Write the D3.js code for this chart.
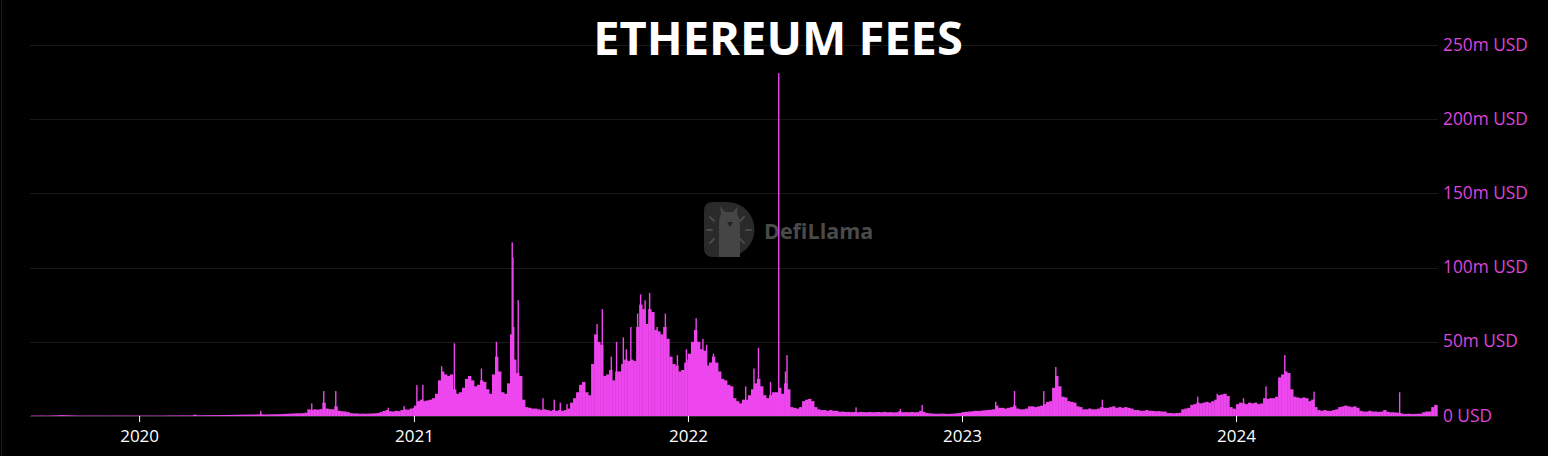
<!DOCTYPE html>
<html>
<head>
<meta charset="utf-8">
<script src="https://cdn.jsdelivr.net/npm/d3@7"></script>
<style>
  html, body { margin: 0; padding: 0; background: #000; }
  svg { display: block; }
</style>
</head>
<body>
<script>
// ---- DATA (million USD, each value = one 4-day period) ----
const start2019 = "2019-08-10";
const fees2019 = [0.3,0.3,0.3,0.35,0.3,0.3,0.35,0.4,0.45,0.55,0.6,0.5,0.45,0.4,0.35,0.3,0.3,0.3,
  0.3,0.3,0.3,0.3,0.3,0.3,0.3,0.3,0.3,0.3,0.3,0.3,0.3,0.3,0.3,0.3,0.3,0.3];
const fees2020 = [0.3,0.3,0.3,0.3,0.3,0.3,0.3,0.3,0.35,0.35,0.4,0.4,0.4,0.4,0.45,0.4,0.4,0.45,
  0.9,
  0.5,0.5,0.5,0.55,0.55,0.6,0.6,0.6,0.65,0.7,0.7,0.75,0.8,0.8,0.85,0.9,0.9,0.95,1.0,1.0,1.0,
  1.3,
  1.0,1.0,1.1,1.1,1.2,1.2,1.3,1.4,1.5,
  1.6,1.7,1.8,1.8,1.9,2.2,
  4.5, 4.0,4.5,4.3,4.6, 9.0, 5.0,4.6,4.5, 6.5, 3.6,3.2,3.0,2.6,
  1.9,1.7,1.7,1.5,1.6,1.5,1.6,1.7,1.8,2.0,
  2.6,3.4,4.0,3.2,
  3.0,3.5,3.3,4.0,4.5,4.2,5.0,5.5];
const fees2021 = [7,10,11, 10,10.5,11,12,15, 24,30,28,27,28,18, 15,16,19, 25,27,24, 20,21,24, 23,18,
  15,28,40,30, 16,15, 22,55,38,29,27,11, 6,5.5,5,5,4.5,
  4,4.5,4,3.5,4,3.5,4,3.5,4,5,
  9,12,16,21,23,16,14, 35,55,50,48, 27,28,31,24, 30,30,35,38,37,38,37,
  60,75,72,62, 72,70,58,57,55, 60,52,40,35, 34,30,31,36,38];
const fees2022 = [42,50,58,50,45,44, 34,36,40,36, 30,25,24,21,20, 12,10,8.5,11,11, 14,18,22,25,20,
  14,12,14,16,16, 19,15,22,18, 6,5.5,5,6, 10,11,11.5,10, 6, 4.5,4,4, 3.5,4,3.5,3.5,
  2.8,3,2.7,2.8,2.6,2.7,2.5,2.8,2.6,2.5,2.7,
  2.5,2.6,2.7,2.5,2.8,2.5,2.6,2.4,2.5,3.2,
  2.5,2.6,2.5,2.7,2.5,2.6,3.5,2.8,
  2.0,1.8,1.6,1.5,1.5,1.6,1.5,1.4,1.5,1.6,1.8,2.0,2.4];
const fees2023 = [2.5,2.8,3.0,3.2,3.5,3.4,3.6,3.8,4.0,4.2,4.5, 7, 5.5,5.5,5,5.5,6, 7, 5,4.5,4.5,5,
  6.5,6.5,6,6.5,7, 8, 9.5,10, 19,27,20, 13,12.5, 10,9.5,9, 6.5,6, 4.5,4.5,5,4.5,4.5,5, 6,
  5.5,5.5,6,6.5,5.5,6,5.5,6,5.5,5,
  4,4,3.5,3.5,4,3.5,3.5,3.2,3.3,3,3,
  2,2,1.8,2,2.2, 4.5,5,5.5, 7.5,8,9,8.5, 9,9.5,9,10,11, 14,14.5,15,13.5, 6,5,4.5];
const fees2024 = [8,9,8.5, 8,9,8.5,9,8,8.5, 12, 11.5,12,12,13, 26,28,30,29, 18, 13,12.5,12,12.5,12,
  10,11, 6, 4,3.5,4,3.5,3.5,4,4.5, 6,6.5,7,6.5,6,6.5,5.5,
  3.5,3,3,3.5,3,3,2.8,3, 4,2.8,2.5,2.5,2.3, 2, 1.5,1.4,1.5,1.3,1.4,1.5,1.6, 2.5,3,3, 6,7.5];

// single-day peaks (million USD)
const spikeDates = ["2020-06-10","2020-08-17","2020-09-02","2020-09-18","2020-11-27","2020-12-18",
  "2021-01-04","2021-01-12","2021-02-06","2021-02-23","2021-03-31","2021-04-20",
  "2021-05-11","2021-05-12","2021-05-13","2021-05-19","2021-06-21","2021-07-06","2021-07-14","2021-07-23",
  "2021-09-01","2021-09-08","2021-09-20","2021-09-27","2021-10-06","2021-10-10","2021-10-16","2021-10-25",
  "2021-10-29","2021-11-04","2021-11-10","2021-11-15","2021-11-20",
  "2021-12-01","2021-12-05","2021-12-17","2021-12-29",
  "2022-01-11","2022-01-20","2022-01-25","2022-02-03","2022-03-18","2022-03-29","2022-04-04","2022-04-20",
  "2022-05-01","2022-05-10","2022-05-12","2022-08-12","2022-10-10","2022-11-08",
  "2023-02-14","2023-03-11","2023-04-19","2023-05-05","2023-07-06","2023-11-10","2023-12-06",
  "2024-01-10","2024-02-09","2024-03-05","2024-04-13","2024-08-05"];
const spikeValues = [3.4,8.5,16.8,16.8,5.6,6.7,
  20.8,21,33.6,49,32,50,
  117,107,60,78,12,11,9,8,
  62,72,40,50,53,45,60,69,
  82,78,83,70,60,
  69,52,41,45,
  66,52,48,42,20,32,46,23,
  231,30,41,5.8,4.7,7.4,
  9.6,16.8,16.8,33,11,13,15,
  12,20,41,16.4,16];

const yTickValues = [0,50,100,150,200,250];
const yTickLabels = ["0 USD","50m USD","100m USD","150m USD","200m USD","250m USD"];
const xTickYears = [2020,2021,2022,2023,2024];
const titleText = "ETHEREUM FEES";
const watermarkText = "DefiLlama";

// ---- BUILD ----
const parse = d3.utcParse("%Y-%m-%d");
const periodDays = 4;
const yearSeries = [
  [start2019, fees2019], ["2020-01-01", fees2020], ["2021-01-01", fees2021],
  ["2022-01-01", fees2022], ["2023-01-01", fees2023], ["2024-01-01", fees2024]
];
const bars = [];
yearSeries.forEach(([s, vals]) => {
  const d0 = parse(s);
  vals.forEach((v, i) => {
    const a = d3.utcDay.offset(d0, i * periodDays);
    bars.push({start: a, end: d3.utcDay.offset(a, periodDays), value: v});
  });
});
const spikes = spikeDates.map((d, i) => ({date: parse(d), value: spikeValues[i]}));

const W = 1548, H = 456;
const svg = d3.select("body").append("svg").attr("width", W).attr("height", H);
svg.append("rect").attr("width", W).attr("height", H).attr("fill", "#000");
svg.append("line").attr("x1", 1.5).attr("x2", 1.5).attr("y1", 0).attr("y2", H)
  .attr("stroke", "#1c1c1c");

const x = d3.scaleUtc().domain([parse("2019-08-10"), parse("2024-09-26")]).range([31, 1438]);
const y = d3.scaleLinear().domain([0, 250]).range([416, 45]);
const font = "'Open Sans', 'Noto Sans', sans-serif";

// grid
svg.append("g").selectAll("line").data(yTickValues).join("line")
  .attr("x1", 30).attr("x2", 1438)
  .attr("y1", d => Math.round(y(d)) + 0.5).attr("y2", d => Math.round(y(d)) + 0.5)
  .attr("stroke", d => d === 0 ? "#2e2e2e" : "#191919");

// y labels
svg.append("g").selectAll("text").data(yTickValues).join("text")
  .attr("x", 1443).attr("y", d => y(d) - 1)
  .attr("dominant-baseline", "central")
  .attr("fill", "#dc45dc").attr("font-family", font).attr("font-size", 17.3)
  .text((d, i) => yTickLabels[i]);

// watermark
const wm = svg.append("g");
wm.append("path")
  .attr("d", "M704,211 Q704,202 713,202 L727,202 A27.5,27.5 0 0 1 727,257 L713,257 Q704,257 704,248 Z")
  .attr("fill", "#2a2a2a");
wm.append("path")
  .attr("d", "M719,257 L719,224 Q719,218 721,214 L720,206 L725,212 L733,212 L738,206 L737,214 Q740,219 740,226 L740,257 Z")
  .attr("fill", "#454545");
wm.append("path").attr("d", "M727,222 L733,222 L730,227 Z").attr("fill", "#222");
[[707,230,712,230],[710,217,714,221],[710,243,714,239],[746,230,751,230],[744,217,740,221],[744,243,740,239]]
  .forEach(s => wm.append("line").attr("x1", s[0]).attr("y1", s[1]).attr("x2", s[2]).attr("y2", s[3])
    .attr("stroke", "#4a4a4a").attr("stroke-width", 2).attr("stroke-linecap", "round"));
wm.append("text").attr("x", 764).attr("y", 239)
  .attr("font-family", font).attr("font-weight", 700).attr("font-size", 21.5)
  .attr("fill", "#4a4a4a").text(watermarkText);

// bars
const barColor = "#ee46ee";
svg.append("g").selectAll("rect").data(bars).join("rect")
  .attr("x", d => x(d.start))
  .attr("width", d => x(d.end) - x(d.start) + 0.4)
  .attr("y", d => y(d.value))
  .attr("height", d => y(0) - y(d.value))
  .attr("fill", barColor);

svg.append("g").selectAll("rect").data(spikes).join("rect")
  .attr("x", d => x(d.date))
  .attr("width", 1.4)
  .attr("y", d => y(d.value))
  .attr("height", d => y(0) - y(d.value))
  .attr("fill", barColor);

// x axis
const xAxis = d3.axisBottom(x)
  .tickValues(xTickYears.map(yr => new Date(Date.UTC(yr, 0, 1))))
  .tickFormat(d3.utcFormat("%Y"))
  .tickSize(6).tickPadding(8);
const gx = svg.append("g").attr("transform", "translate(0,416)").call(xAxis);
gx.select(".domain").remove();
gx.selectAll(".tick line").attr("stroke", "#fff");
gx.selectAll(".tick text").attr("fill", "#fff").attr("font-family", font).attr("font-size", 17);

// title
svg.append("text").attr("x", 778).attr("y", 55).attr("text-anchor", "middle")
  .attr("font-family", font).attr("font-weight", 700).attr("font-size", 47)
  .attr("fill", "#fff").text(titleText);
</script>
</body>
</html>
